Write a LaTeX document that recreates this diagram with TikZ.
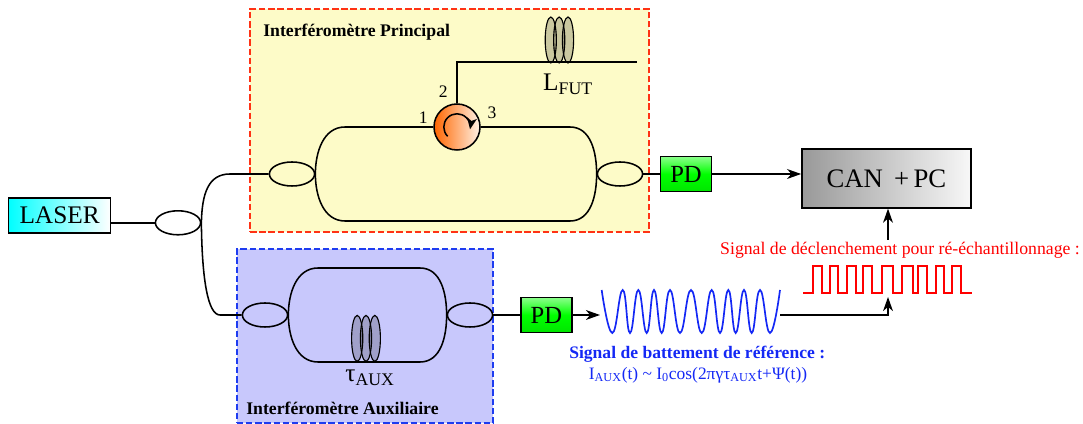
\documentclass[tikz,border=0pt]{standalone}
\usepackage{fontspec}
\setmainfont{Liberation Serif}
\usetikzlibrary{arrows.meta,shapes.geometric}
\definecolor{boxyellow}{RGB}{253,251,200}
\definecolor{boxblue}{RGB}{200,200,252}
\definecolor{dashred}{RGB}{255,50,20}
\definecolor{dashblue}{RGB}{30,60,240}
\definecolor{sigblue}{RGB}{20,40,245}
\tikzset{
  fibre/.style={line width=1.1pt, black},
  signal/.style={-{Stealth[length=10pt,width=7pt,inset=3pt]}, line width=1.1pt, black},
  coupler/.style={draw, ellipse, line width=1.1pt, minimum width=1.13cm, minimum height=0.6cm, inner sep=0pt},
  coil/.style={draw, ellipse, line width=0.8pt, fill=black, fill opacity=0.2, minimum width=0.28cm, minimum height=1.15cm, inner sep=0pt},
  detector/.style={draw, line width=1.2pt, top color=green!45!white, bottom color=green!90!black, middle color=green, font=\fontsize{17.5}{17.5}\selectfont, inner sep=0pt, minimum width=1.28cm, minimum height=0.88cm},
  portlabel/.style={font=\fontsize{12.5}{12.5}\selectfont},
  boxtitle/.style={font=\fontsize{12.6}{12.6}\selectfont\bfseries, inner sep=0pt}
}
\begin{document}
\begin{tikzpicture}
  \useasboundingbox (0,0) rectangle (27.075,10.6);

  % Interferometer frames
  \node[draw=dashred, fill=boxyellow, dash pattern=on 4.5pt off 2pt, line width=1.2pt, minimum width=9.97cm, minimum height=5.57cm, inner sep=0pt] (mainframe) at (11.24,7.59) {};
  \node[draw=dashblue, fill=boxblue, dash pattern=on 4.5pt off 2pt, line width=1.2pt, minimum width=6.4cm, minimum height=4.35cm, inner sep=0pt] (auxframe) at (9.125,2.2) {};
  \node[boxtitle, anchor=west] (maintitle) at (6.575,9.8) {Interféromètre Principal};
  \node[boxtitle, anchor=west] (auxtitle) at (6.15,0.4) {Interféromètre Auxiliaire};

  % Source and first splitter
  \node[draw, line width=1.2pt, left color=cyan, right color=white, font=\fontsize{18}{18}\selectfont, inner sep=0pt, minimum width=2.55cm, minimum height=0.87cm] (laser) at (1.49,5.21) {LASER};
  \node[coupler] (splitter) at (4.45,5.03) {};
  \draw[fibre] (laser.east |- splitter.west) -- (splitter.west);

  % Main interferometer
  \node[coupler] (cplA) at (7.3,6.25) {};
  \node[coupler] (cplB) at (15.5,6.25) {};
  \node[draw, circle, line width=1.1pt, left color=orange!80!red, right color=orange!10!white, minimum size=1.15cm, inner sep=0pt] (circ) at (11.425,7.425) {};
  \draw[-{Stealth[length=8pt,width=7pt,inset=2pt]}, line width=1.1pt] (circ.center) ++(225:0.33) arc (225:-10:0.33);
  \coordinate (mainTL) at (8.625,7.425);
  \coordinate (mainTR) at (14.25,7.425);
  \coordinate (mainBL) at (8.625,5.075);
  \coordinate (mainBR) at (14.25,5.075);
  \coordinate (fibreturn) at (11.425,9.05);
  \coordinate (fibreend) at (15.925,9.05);
  \draw[fibre] (cplA.east) to[out=90,in=180] (mainTL) -- (circ.west);
  \draw[fibre] (circ.east) -- (mainTR) to[out=0,in=90] (cplB.west);
  \draw[fibre] (cplA.east) to[out=-90,in=180] (mainBL) -- (mainBR) to[out=0,in=-90] (cplB.west);
  \draw[fibre] (circ.north) -- (fibreturn) -- (fibreend);
  \node[coil] (futA) at (13.77,9.6) {};
  \node[coil] (futB) at (13.98,9.6) {};
  \node[coil] (futC) at (14.2,9.6) {};
  \node[font=\fontsize{18}{18}\selectfont] (lfut) at (14.2,8.5) {L\textsubscript{FUT}};
  \node[portlabel] (port1) at (10.58,7.65) {1};
  \node[portlabel] (port2) at (11.08,8.32) {2};
  \node[portlabel] (port3) at (12.3,7.78) {3};

  \coordinate (splitA) at (5.75,6.25);
  \draw[fibre] (splitter.east) .. controls (5.05,5.75) and (5.2,6.25) .. (splitA) -- (cplA.west);

  % Auxiliary interferometer
  \node[coupler] (cplC) at (6.625,2.725) {};
  \node[coupler] (cplD) at (11.75,2.725) {};
  \coordinate (auxTL) at (7.95,3.9);
  \coordinate (auxTR) at (10.5,3.9);
  \coordinate (auxBL) at (7.95,1.55);
  \coordinate (auxBR) at (10.5,1.55);
  \draw[fibre] (cplC.east) to[out=90,in=180] (auxTL) -- (auxTR) to[out=0,in=90] (cplD.west);
  \draw[fibre] (cplC.east) to[out=-90,in=180] (auxBL) -- (auxBR) to[out=0,in=-90] (cplD.west);
  \node[coil] (tauA) at (8.93,2.14) {};
  \node[coil] (tauB) at (9.15,2.14) {};
  \node[coil] (tauC) at (9.37,2.14) {};
  \node[font=\fontsize{18}{18}\selectfont] (tauaux) at (9.25,1.15) {τ\textsubscript{AUX}};
  \coordinate (splitC) at (5.5,2.725);
  \draw[fibre] (splitter.east) .. controls (5.05,3.6) and (5.2,2.725) .. (splitC) -- (cplC.west);

  % Detection
  \node[detector] (pdmain) at (17.15,6.25) {PD};
  \node[detector] (pdaux) at (13.66,2.725) {PD};
  \node[draw, line width=1.2pt, left color=black!40, right color=black!3, font=\fontsize{19}{19}\selectfont, inner sep=0pt, minimum width=4.22cm, minimum height=1.47cm] (can) at (22.16,6.14) {CAN\, +\,PC};
  \draw[fibre] (cplB.east) -- (pdmain.west);
  \draw[fibre] (cplD.east) -- (pdaux.west);
  \draw[signal] (pdmain.east) -- (can.west |- pdmain.east);

  % Beat signal
  \coordinate (sinein) at (15,2.725);
  \coordinate (sineout) at (19.5,2.725);
  \draw[signal] (pdaux.east) -- (sinein);
  \draw[sigblue, line width=1.2pt] plot[smooth, tension=0.8] coordinates {(15.042,3.35) (15.308,2.275) (15.567,3.35) (15.75,2.275) (15.958,3.35) (16.167,2.275) (16.35,3.35) (16.542,2.275) (16.75,3.35) (17.0,2.275) (17.275,3.35) (17.542,2.275) (17.792,3.35) (18.0,2.275) (18.208,3.35) (18.392,2.275) (18.6,3.35) (18.792,2.275) (19.0,3.35) (19.25,2.275) (19.5,3.35)};
  \node[text=sigblue, font=\fontsize{12.5}{12.5}\selectfont\bfseries] (beattitle) at (17.43,1.75) {Signal de battement de référence :};
  \node[text=sigblue, font=\fontsize{12.4}{12.4}\selectfont] (beatformula) at (17.45,1.22) {I\textsubscript{AUX}(t) \textasciitilde{} I\textsubscript{0}cos(2πγτ\textsubscript{AUX}t+Ψ(t))};

  % Trigger signal
  \coordinate (trigstart) at (20.083,3.275);
  \coordinate (trigend) at (24.292,3.275);
  \draw[red, line width=1.2pt] (trigstart) \foreach \up/\down in {20.333/20.542,20.75/20.958,21.167/21.392,21.583/21.808,22.042/22.333,22.542/22.833,22.958/23.167,23.392/23.6,23.808/24.017} { -- (\up,3.275) -- (\up,3.95) -- (\down,3.95) -- (\down,3.275) } -- (trigend);
  \node[text=red, font=\fontsize{12.6}{12.6}\selectfont] (trigtitle) at (22.5,4.35) {Signal de déclenchement pour ré-échantillonnage :};
  \coordinate (trigtop) at (22.2,4.6);
  \coordinate (trigbot) at (22.2,3.175);
  \coordinate (corner) at (22.2,2.725);
  \draw[signal] (trigtop) -- (can.south -| trigtop);
  \draw[signal] (sineout) -- (corner) -- (trigbot);
\end{tikzpicture}
\end{document}
